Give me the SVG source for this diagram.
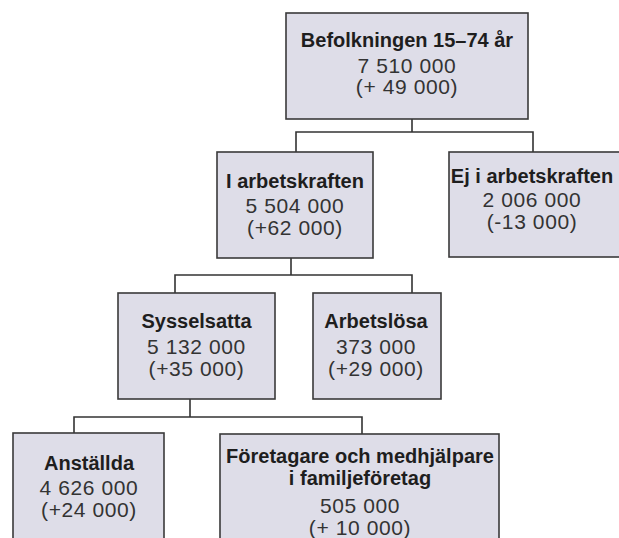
<svg xmlns="http://www.w3.org/2000/svg" width="619" height="538" viewBox="0 0 619 538">
<style>
.box{fill:#dedde8;stroke:#3a3a3a;stroke-width:1.6}
.c{fill:none;stroke:#333;stroke-width:1.6}
text{text-anchor:middle;fill:#1e1e1e}
.b{font-family:"Liberation Sans",Arial,sans-serif;font-weight:bold;font-size:20px}
.n{font-family:"Liberation Sans",Arial,sans-serif;font-size:21px;letter-spacing:0.6px;fill:#333}
</style>
<rect width="619" height="538" fill="#fff"/>
<g id="connectors">
<path class="c" d="M412 119V132M296 152V132H533V152"/>
<path class="c" d="M291 258V275M175 293V275H412V293"/>
<path class="c" d="M190 399V417M74 433V417H362V434"/>
</g>
<g id="befolkningen">
<rect class="box" x="286" y="13" width="242" height="106"/>
<text class="b" x="407" y="47">Befolkningen 15–74 år</text>
<text class="n" x="407" y="73">7 510 000</text>
<text class="n" x="407" y="94">(+ 49 000)</text>
</g>
<g id="i-arbetskraften">
<rect class="box" x="217" y="152" width="156" height="106"/>
<text class="b" x="295" y="188">I arbetskraften</text>
<text class="n" x="295" y="213">5 504 000</text>
<text class="n" x="295" y="235">(+62 000)</text>
</g>
<g id="ej-i-arbetskraften">
<rect class="box" x="449" y="152" width="180" height="105"/>
<text class="b" x="532" y="183">Ej i arbetskraften</text>
<text class="n" x="532" y="207">2 006 000</text>
<text class="n" x="532" y="229">(-13 000)</text>
</g>
<g id="sysselsatta">
<rect class="box" x="118" y="293" width="157" height="106"/>
<text class="b" x="196.5" y="328">Sysselsatta</text>
<text class="n" x="196.5" y="354">5 132 000</text>
<text class="n" x="196.5" y="376">(+35 000)</text>
</g>
<g id="arbetslosa">
<rect class="box" x="313" y="293" width="128" height="106"/>
<text class="b" x="376" y="328">Arbetslösa</text>
<text class="n" x="376" y="354">373 000</text>
<text class="n" x="376" y="376">(+29 000)</text>
</g>
<g id="anstallda">
<rect class="box" x="13" y="433" width="151" height="120"/>
<text class="b" x="89" y="470">Anställda</text>
<text class="n" x="89" y="495">4 626 000</text>
<text class="n" x="89" y="517">(+24 000)</text>
</g>
<g id="foretagare">
<rect class="box" x="220" y="434" width="279" height="120"/>
<text class="b" x="360" y="463">Företagare och medhjälpare</text>
<text class="b" x="360" y="485">i familjeföretag</text>
<text class="n" x="360" y="513">505 000</text>
<text class="n" x="360" y="535">(+ 10 000)</text>
</g>
</svg>
